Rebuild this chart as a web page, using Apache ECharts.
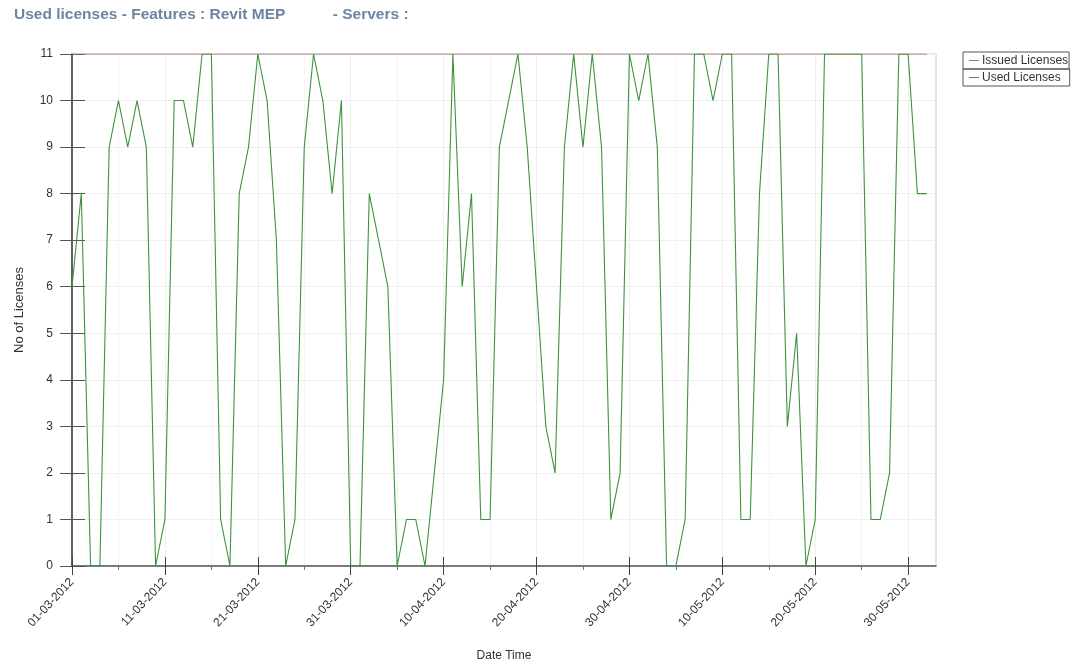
<!DOCTYPE html>
<html>
<head>
<meta charset="utf-8">
<script src="https://cdn.jsdelivr.net/npm/echarts@6/dist/echarts.min.js"></script>
<style>
  html, body { margin: 0; padding: 0; background: #fff; }
  #chart { width: 1073px; height: 665px; }
</style>
</head>
<body>
<div id="chart"></div>
<script>
// one point per day, starting 01-03-2012
const startDate = [2012, 2, 1]
const used = [
  6, 8, 0, 0, 9, 10, 9, 10, 9, 0,
  1, 10, 10, 9, 11, 11, 1, 0, 8, 9,
  11, 10, 7, 0, 1, 9, 11, 10, 8, 10,
  0, 0, 8, 7, 6, 0, 1, 1, 0, 2,
  4, 11, 6, 8, 1, 1, 9, 10, 11, 9,
  6, 3, 2, 9, 11, 9, 11, 9, 1, 2,
  11, 10, 11, 9, 0, 0, 1, 11, 11, 10,
  11, 11, 1, 1, 8, 11, 11, 3, 5, 0,
  1, 11, 11, 11, 11, 11, 1, 1, 2, 11,
  11, 8, 8
]
const issued = [
  11, 11, 11, 11, 11, 11, 11, 11, 11, 11,
  11, 11, 11, 11, 11, 11, 11, 11, 11, 11,
  11, 11, 11, 11, 11, 11, 11, 11, 11, 11,
  11, 11, 11, 11, 11, 11, 11, 11, 11, 11,
  11, 11, 11, 11, 11, 11, 11, 11, 11, 11,
  11, 11, 11, 11, 11, 11, 11, 11, 11, 11,
  11, 11, 11, 11, 11, 11, 11, 11, 11, 11,
  11, 11, 11, 11, 11, 11, 11, 11, 11, 11,
  11, 11, 11, 11, 11, 11, 11, 11, 11, 11,
  11, 11, 11
]
// day offsets of the labelled ticks and of the small ticks between them
const majorDays = [0, 10, 20, 30, 40, 50, 60, 70, 80, 90]
const minorDays = [5, 15, 25, 35, 45, 55, 65, 75, 85]
const yTicks = [0, 1, 2, 3, 4, 5, 6, 7, 8, 9, 10, 11]

const font = 'Liberation Sans, Arial, sans-serif'

function dayLabel(i) {
  const d = new Date(startDate[0], startDate[1], startDate[2] + i)
  const dd = String(d.getDate()).padStart(2, '0')
  const mm = String(d.getMonth() + 1).padStart(2, '0')
  return `${dd}-${mm}-${d.getFullYear()}`
}

const chart = echarts.init(document.getElementById('chart'), null, { renderer: 'canvas' })

const xBase = { type: 'value', min: 0, max: 93, position: 'bottom' }
const yBase = {
  type: 'value',
  min: yTicks[0],
  max: yTicks[yTicks.length - 1],
  interval: 1,
  position: 'left',
}

const legendText = { fontFamily: font, fontSize: 12, lineHeight: 13, color: '#333', padding: [0, 0, 0, -2] }

chart.setOption({
  animation: false,
  backgroundColor: '#fff',
  title: {
    text: 'Used licenses - Features : Revit MEP           - Servers :',
    left: 9,
    top: 2,
    textStyle: { fontFamily: font, fontSize: 15.5, fontWeight: 'bold', color: '#6b85a2' },
  },
  grid: {
    left: 72, right: 137, top: 54, bottom: 99,
    outerBoundsMode: 'none',
    containLabel: false,
    show: true, borderColor: '#c8c8c8', borderWidth: 1,
  },
  legend: [
    {
      data: ['Issued Licenses'],
      left: 963, top: 52,
      itemWidth: 10, itemHeight: 1, itemGap: 0,
      padding: [2, 1, 2, 6],
      borderColor: '#555', borderWidth: 1,
      textStyle: legendText,
      icon: 'rect',
    },
    {
      data: ['Used Licenses'],
      left: 963, top: 69,
      itemWidth: 10, itemHeight: 1, itemGap: 0,
      padding: [2, 9, 2, 6],
      borderColor: '#555', borderWidth: 1,
      textStyle: legendText,
      icon: 'rect',
    },
  ],
  xAxis: [
    {
      ...xBase,
      name: 'Date Time',
      nameLocation: 'middle',
      nameGap: 84,
      nameTextStyle: { fontFamily: font, fontSize: 12, color: '#333' },
      axisLine: { show: true, onZero: false, lineStyle: { color: '#555', width: 1.5 } },
      axisTick: { show: true, length: 9, customValues: majorDays, lineStyle: { color: '#444' } },
      axisLabel: {
        fontFamily: font, fontSize: 12, color: '#333', rotate: 47, margin: 14,
        customValues: majorDays,
        formatter: (v) => dayLabel(v),
      },
      splitLine: { show: true, lineStyle: { color: '#efefef' } },
    },
    {
      ...xBase,
      axisLine: { show: false },
      axisTick: { show: true, inside: true, length: 9, customValues: majorDays, lineStyle: { color: '#444' } },
      axisLabel: { show: false, customValues: majorDays },
      splitLine: { show: false },
    },
    {
      ...xBase,
      axisLine: { show: false },
      axisTick: { show: true, length: 4, customValues: minorDays, lineStyle: { color: '#777' } },
      axisLabel: { show: false, customValues: minorDays },
      splitLine: { show: true, lineStyle: { color: '#f5f5f5' } },
    },
  ],
  yAxis: [
    {
      ...yBase,
      name: 'No of Licenses',
      nameLocation: 'middle',
      nameGap: 46,
      nameTextStyle: { fontFamily: font, fontSize: 13, color: '#333' },
      axisLine: { show: true, onZero: false, lineStyle: { color: '#333', width: 1.5 } },
      axisTick: { show: true, length: 12, lineStyle: { color: '#555' } },
      axisLabel: { fontFamily: font, fontSize: 12, color: '#333', margin: 19 },
      splitLine: { show: true, lineStyle: { color: '#efefef' } },
    },
    {
      ...yBase,
      axisLine: { show: false },
      axisTick: { show: true, inside: true, length: 13, lineStyle: { color: '#555' } },
      axisLabel: { show: false },
      splitLine: { show: false },
    },
  ],
  series: [
    {
      name: 'Issued Licenses',
      type: 'line',
      xAxisIndex: 0,
      yAxisIndex: 0,
      data: issued.map((v, i) => [i, v]),
      showSymbol: false,
      symbol: 'none',
      color: '#a87070',
      lineStyle: { color: '#a87070', width: 1.2 },
      z: 3,
    },
    {
      name: 'Used Licenses',
      type: 'line',
      xAxisIndex: 0,
      yAxisIndex: 0,
      data: used.map((v, i) => [i, v]),
      showSymbol: false,
      symbol: 'none',
      color: '#3d933d',
      lineStyle: { color: '#3d933d', width: 1.1 },
      z: 4,
    },
  ],
})
</script>
</body>
</html>
